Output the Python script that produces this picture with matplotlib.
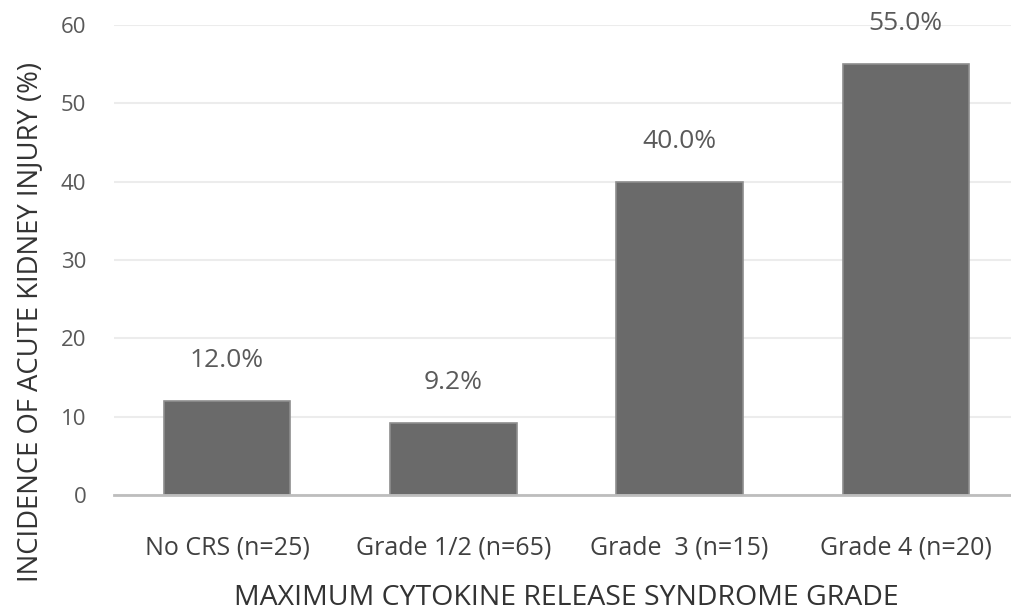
import matplotlib
matplotlib.use("Agg")
import matplotlib.pyplot as plt

categories = ["No CRS (n=25)", "Grade 1/2 (n=65)", "Grade  3 (n=15)", "Grade 4 (n=20)"]
aki_incidence = [12.0, 9.2, 40.0, 55.0]
y_ticks = [0, 10, 20, 30, 40, 50, 60]

plt.rcParams["font.family"] = ["Open Sans", "DejaVu Sans"]

W, H = 1012, 612
fig = plt.figure(figsize=(W / 100, H / 100), dpi=100)
ax = fig.add_axes([114 / W, 1 - 495 / H, 905 / W, 470 / H])

x = list(range(len(categories)))
ax.bar(x, aki_incidence, width=0.56, color="#6a6a6a", edgecolor="#8e8e8e",
       linewidth=1.2, zorder=3)

for xi, v in zip(x, aki_incidence):
    ax.annotate(f"{v:.1f}%", (xi, v), xytext=(0, 29), textcoords="offset points",
                ha="center", va="center", fontsize=19, color="#5a5a5a")

ax.set_xlim(-0.5, 3.5)
ax.set_ylim(0, 60)
ax.set_yticks(y_ticks)
ax.set_xticks(x)
ax.set_xticklabels(categories)
ax.tick_params(axis="y", length=0, pad=20, labelsize=16, labelcolor="#595959")
ax.tick_params(axis="x", length=0, pad=29, labelsize=18, labelcolor="#404040")
ax.grid(axis="y", color="#ececec", linewidth=1.5, zorder=0)
for side in ["top", "right", "left"]:
    ax.spines[side].set_visible(False)
ax.spines["bottom"].set_color("#bdbdbd")
ax.spines["bottom"].set_linewidth(2)
ax.spines["bottom"].set_zorder(4)

fig.text(566 / W, 1 - 598 / H, "MAXIMUM CYTOKINE RELEASE SYNDROME GRADE",
         ha="center", va="center", fontsize=20.5, color="#333333")
fig.text(30 / W, 1 - 322 / H, "INCIDENCE OF ACUTE KIDNEY INJURY (%)",
         ha="center", va="center", rotation=90, fontsize=19.8, color="#333333")

fig.savefig("out.png", dpi=100)
